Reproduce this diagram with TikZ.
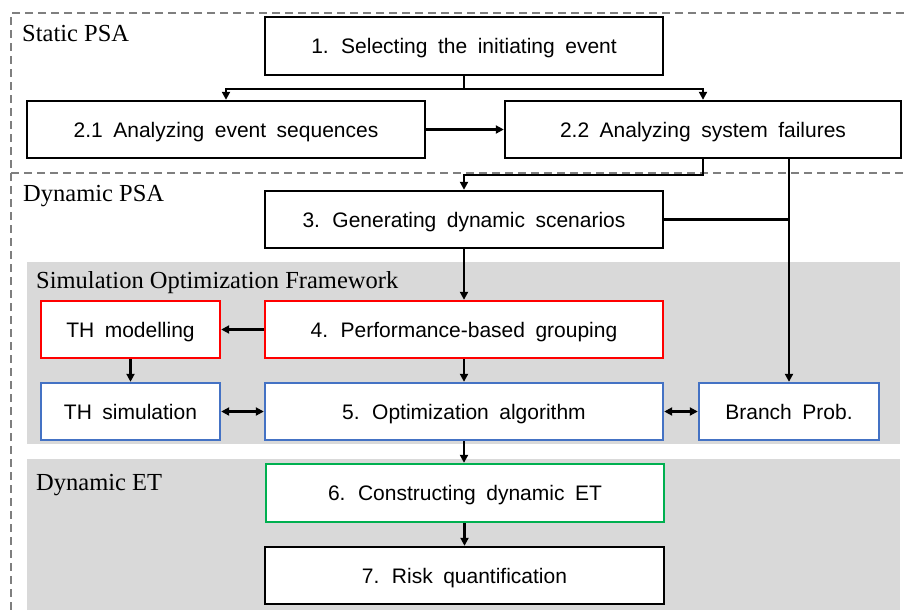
\documentclass[tikz,border=0pt]{standalone}
\usepackage{fontspec}
\setmainfont{Liberation Serif}
\newfontfamily\boxfont[WordSpace=1.8]{Liberation Sans}
\usetikzlibrary{arrows.meta}
\definecolor{panelgray}{HTML}{D9D9D9}
\definecolor{dashgray}{HTML}{7F7F7F}
\definecolor{boxred}{HTML}{FF0000}
\definecolor{boxblue}{HTML}{4472C4}
\definecolor{boxgreen}{HTML}{00B050}
\begin{document}
\begin{tikzpicture}[x=1pt,y=-1pt,
  stepbox/.style={draw=black, line width=2.4pt, fill=white, inner sep=0pt,
    minimum height=57pt, text height=15.5pt, text depth=0pt,
    font=\boxfont\fontsize{21}{25}\selectfont},
  redbox/.style={stepbox, draw=boxred},
  bluebox/.style={stepbox, draw=boxblue},
  greenbox/.style={stepbox, draw=boxgreen},
  arr/.style={line width=2.2pt, -{Triangle[length=8pt,width=8pt]}},
  darr/.style={line width=2.2pt, {Triangle[length=8pt,width=8pt]}-{Triangle[length=8pt,width=8pt]}},
  plain/.style={line width=2.2pt},
  frame/.style={draw=dashgray, line width=1.5pt, dash pattern=on 8pt off 5pt},
  panel/.style={fill=panelgray, draw=none},
  lbl/.style={anchor=base west, inner sep=0pt, font=\fontsize{24.5}{28}\selectfont}
]
\useasboundingbox (0,0) rectangle (904,614);
% frame
\draw[frame] (904,13) -- (11,13) -- (11,614);
\draw[frame] (11,173) -- (904,173);
% panels
\fill[panel] (27,262) rectangle (900,444);
\fill[panel] (27,459) rectangle (900,610);
% labels
\node[lbl] (lstatic) at (22,41) {Static PSA};
\node[lbl] (ldyn) at (23,201) {Dynamic PSA};
\node[lbl] (lsim) at (36,288) {Simulation Optimization Framework};
\node[lbl] (ldet) at (36,490) {Dynamic ET};
% nodes
\node[stepbox, minimum width=398pt, minimum height=58pt] (b1) at (464,46) {1. Selecting the initiating event};
\node[stepbox, minimum width=398pt] (b21) at (226,129.5) {2.1 Analyzing event sequences};
\node[stepbox, minimum width=396pt] (b22) at (703,129.5) {2.2 Analyzing system failures};
\node[stepbox, minimum width=398pt] (b3) at (464,219.5) {3. Generating dynamic scenarios};
\node[redbox, minimum width=179pt] (thm) at (130.5,329.5) {TH modelling};
\node[redbox, minimum width=398pt] (b4) at (464,329.5) {4. Performance-based grouping};
\node[bluebox, minimum width=179pt] (ths) at (130.5,411.5) {TH simulation};
\node[bluebox, minimum width=398pt] (b5) at (464,411.5) {5. Optimization algorithm};
\node[bluebox, minimum width=180pt] (br) at (789,411.5) {Branch Prob.};
\node[greenbox, minimum width=398pt, minimum height=58pt] (b6) at (465,493) {6. Constructing dynamic ET};
\node[stepbox, minimum width=399pt] (b7) at (464.5,575.5) {7. Risk quantification};
% connectors
\draw[arr] (b1.south) -- ++(0,13) -| (b21.north);
\draw[arr] (b1.south) -- ++(0,13) -| (b22.north);
\draw[arr] (b21.east) -- (b22.west);
\draw[arr] (b22.south) -- ++(0,16) -| (b3.north);
\draw[arr] (br.north |- b22.south) -- (br.north);
\draw[plain] (b3.east) -- (b3.east -| br.north);
\draw[arr] (b3.south) -- (b4.north);
\draw[arr] (b4.west) -- (thm.east);
\draw[arr] (thm.south) -- (ths.north);
\draw[arr] (b4.south) -- (b5.north);
\draw[darr] (ths.east) -- (b5.west);
\draw[darr] (b5.east) -- (br.west);
\draw[arr] (b5.south) -- (b6.north -| b5.south);
\draw[arr] (b6.south -| b7.north) -- (b7.north);
\end{tikzpicture}
\end{document}
